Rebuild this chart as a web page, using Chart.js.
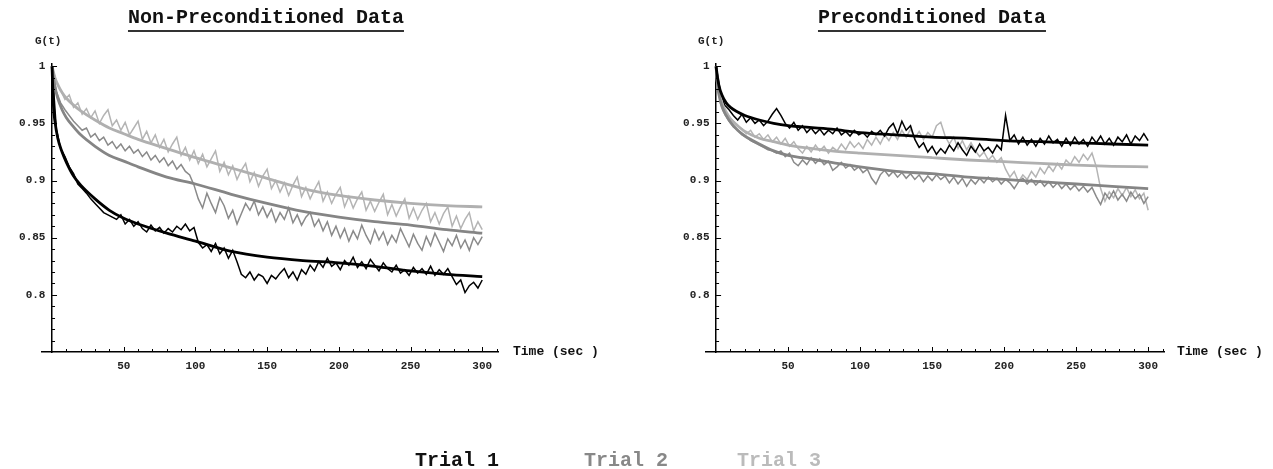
<!DOCTYPE html>
<html>
<head>
<meta charset="utf-8">
<script src="https://cdn.jsdelivr.net/npm/chart.js@4.4.0/dist/chart.umd.min.js"></script>
<style>
  body { margin: 0; width: 1273px; height: 469px; background: #fff; position: relative; overflow: hidden; font-family: "Liberation Mono", "DejaVu Sans Mono", monospace; }
  .panel { position: absolute; top: 0; height: 469px; }
  .title { position: absolute; top: 8px; font-size: 20px; line-height: 20px; font-weight: bold; color: #111; padding-bottom: 2px; border-bottom: 2px solid #333; transform: translateX(-50%); white-space: nowrap; }
  .ylab { position: absolute; top: 35px; font-size: 11px; font-weight: bold; color: #222; }
  .xlab { position: absolute; top: 344px; font-size: 13px; line-height: 16px; font-weight: bold; color: #111; white-space: pre; }
  .legend { position: absolute; top: 450px; font-size: 20px; line-height: 22px; font-weight: bold; white-space: nowrap; }
</style>
</head>
<body>
<div class="panel" style="left:0;width:640px"><canvas id="leftChart"></canvas></div>
<div class="panel" style="left:640px;width:633px"><canvas id="rightChart"></canvas></div>

<div class="title" style="left:266px">Non-Preconditioned Data</div>
<div class="title" style="left:932px">Preconditioned Data</div>
<div class="ylab" style="left:35px">G(t)</div>
<div class="ylab" style="left:698px">G(t)</div>
<div class="xlab" style="left:513px">Time (sec )</div>
<div class="xlab" style="left:1177px">Time (sec )</div>
<div class="legend" style="left:415px;color:#111">Trial 1</div>
<div class="legend" style="left:584px;color:#888">Trial 2</div>
<div class="legend" style="left:737px;color:#bbb">Trial 3</div>

<script>
// sample times of the measured curves (sec)
const time = [
  0, 3, 6, 9, 12, 15, 18, 21, 24, 27,
  30, 33, 36, 39, 42, 45, 48, 51, 54, 57,
  60, 63, 66, 69, 72, 75, 78, 81, 84, 87,
  90, 93, 96, 99, 102, 105, 108, 111, 114, 117,
  120, 123, 126, 129, 132, 135, 138, 141, 144, 147,
  150, 153, 156, 159, 162, 165, 168, 171, 174, 177,
  180, 183, 186, 189, 192, 195, 198, 201, 204, 207,
  210, 213, 216, 219, 222, 225, 228, 231, 234, 237,
  240, 243, 246, 249, 252, 255, 258, 261, 264, 267,
  270, 273, 276, 279, 282, 285, 288, 291, 294, 297,
  300
];
// times where the fitted curves were read
const fitTime = [0, 1, 2, 4, 7, 10, 15, 20, 30, 40, 50, 60, 80, 100, 125, 150, 175, 200, 225, 250, 275, 300];

const trialNames = ['Trial 1', 'Trial 2', 'Trial 3'];
const xTicks = [10, 20, 30, 40, 50, 60, 70, 80, 90, 100, 110, 120, 130, 140, 150, 160, 170, 180, 190, 200, 210, 220, 230, 240, 250, 260, 270, 280, 290, 300, 310];
const xLabels = [50, 100, 150, 200, 250, 300];
const yTicks = [0.76, 0.77, 0.78, 0.79, 0.8, 0.81, 0.82, 0.83, 0.84, 0.85, 0.86, 0.87, 0.88, 0.89, 0.9, 0.91, 0.92, 0.93, 0.94, 0.95, 0.96, 0.97, 0.98, 0.99, 1];
const yLabels = [0.8, 0.85, 0.9, 0.95, 1];

// Non-preconditioned data
const leftTrial1 = [
  1.000, 0.945, 0.928, 0.921, 0.912, 0.906, 0.897, 0.893, 0.889, 0.884,
  0.880, 0.876, 0.872, 0.870, 0.868, 0.866, 0.870, 0.862, 0.866, 0.860,
  0.864, 0.858, 0.855, 0.861, 0.856, 0.859, 0.854, 0.858, 0.855, 0.860,
  0.857, 0.862, 0.856, 0.859, 0.846, 0.841, 0.844, 0.838, 0.845, 0.836,
  0.841, 0.832, 0.839, 0.829, 0.818, 0.815, 0.820, 0.813, 0.818, 0.816,
  0.810, 0.817, 0.814, 0.819, 0.823, 0.815, 0.820, 0.813, 0.822, 0.818,
  0.826, 0.821, 0.829, 0.824, 0.832, 0.825, 0.828, 0.822, 0.830, 0.826,
  0.833, 0.824, 0.829, 0.823, 0.831, 0.826, 0.821, 0.828, 0.823, 0.820,
  0.826, 0.819, 0.822, 0.817, 0.824, 0.819, 0.823, 0.818, 0.825, 0.817,
  0.822, 0.818, 0.823, 0.816, 0.809, 0.813, 0.802, 0.808, 0.811, 0.806,
  0.813
];
const leftTrial2 = [
  1.000, 0.978, 0.968, 0.962, 0.957, 0.952, 0.948, 0.944, 0.946, 0.938,
  0.941, 0.935, 0.938, 0.931, 0.934, 0.928, 0.932, 0.926, 0.930, 0.924,
  0.927, 0.921, 0.925, 0.918, 0.922, 0.916, 0.920, 0.913, 0.917, 0.910,
  0.914, 0.908, 0.905, 0.896, 0.884, 0.876, 0.889, 0.880, 0.872, 0.885,
  0.878, 0.867, 0.874, 0.862, 0.871, 0.880, 0.874, 0.882, 0.870, 0.877,
  0.868, 0.875, 0.864, 0.872, 0.866, 0.876, 0.863, 0.870, 0.861, 0.868,
  0.872, 0.860, 0.866, 0.856, 0.864, 0.852, 0.860, 0.850, 0.858, 0.847,
  0.856, 0.849, 0.861, 0.852, 0.845, 0.857, 0.848, 0.855, 0.844, 0.852,
  0.846, 0.858, 0.850, 0.842, 0.853, 0.845, 0.839, 0.851, 0.843, 0.854,
  0.846, 0.838, 0.849, 0.843, 0.852, 0.841, 0.848, 0.839, 0.850, 0.844,
  0.851
];
const leftTrial3 = [
  1.000, 0.986, 0.979, 0.971, 0.975, 0.964, 0.968, 0.958, 0.963, 0.955,
  0.961, 0.950, 0.957, 0.962, 0.948, 0.953, 0.944, 0.951, 0.940, 0.946,
  0.952, 0.936, 0.943, 0.933, 0.940, 0.929, 0.936, 0.925, 0.932, 0.938,
  0.922, 0.929, 0.918, 0.926, 0.915, 0.923, 0.912, 0.919, 0.926, 0.908,
  0.916, 0.905, 0.913, 0.901, 0.909, 0.915, 0.899, 0.907, 0.895, 0.904,
  0.910, 0.893, 0.900, 0.890, 0.898, 0.887, 0.896, 0.903, 0.886, 0.894,
  0.884, 0.892, 0.899, 0.882, 0.890, 0.880, 0.888, 0.894, 0.877, 0.886,
  0.876, 0.884, 0.890, 0.874, 0.882, 0.873, 0.881, 0.888, 0.870, 0.879,
  0.869, 0.877, 0.884, 0.867, 0.876, 0.866, 0.874, 0.880, 0.864, 0.872,
  0.862, 0.871, 0.877, 0.860, 0.869, 0.858, 0.866, 0.872, 0.856, 0.864,
  0.857
];
const leftFit1 = [1.0, 0.965, 0.952, 0.937, 0.925, 0.916, 0.904, 0.896, 0.884, 0.874, 0.867, 0.862, 0.854, 0.847, 0.838, 0.833, 0.830, 0.828, 0.825, 0.821, 0.818, 0.816];
const leftFit2 = [1.0, 0.990, 0.982, 0.972, 0.962, 0.955, 0.947, 0.940, 0.930, 0.922, 0.917, 0.912, 0.903, 0.897, 0.888, 0.880, 0.873, 0.868, 0.864, 0.861, 0.857, 0.854];
const leftFit3 = [1.0, 0.995, 0.990, 0.984, 0.977, 0.972, 0.966, 0.961, 0.953, 0.946, 0.941, 0.936, 0.928, 0.920, 0.911, 0.902, 0.893, 0.887, 0.883, 0.880, 0.878, 0.877];

// Preconditioned data
const rightTrial1 = [
  1.000, 0.978, 0.966, 0.962, 0.957, 0.953, 0.958, 0.951, 0.955, 0.950,
  0.953, 0.948, 0.952, 0.958, 0.963, 0.957, 0.950, 0.946, 0.951, 0.944,
  0.948, 0.942, 0.946, 0.941, 0.945, 0.940, 0.944, 0.941, 0.946, 0.940,
  0.943, 0.939, 0.944, 0.940, 0.942, 0.938, 0.943, 0.940, 0.944, 0.939,
  0.946, 0.950, 0.941, 0.952, 0.944, 0.948, 0.936, 0.929, 0.933, 0.925,
  0.930, 0.923, 0.928, 0.924, 0.931, 0.926, 0.933, 0.927, 0.922, 0.930,
  0.925, 0.932, 0.926, 0.929, 0.924, 0.931, 0.927, 0.957, 0.935, 0.940,
  0.932, 0.938, 0.931, 0.936, 0.930, 0.937, 0.932, 0.939, 0.933, 0.936,
  0.930, 0.937, 0.931, 0.938, 0.932, 0.936, 0.930, 0.938, 0.933, 0.939,
  0.932, 0.937, 0.931, 0.938, 0.934, 0.940, 0.932, 0.939, 0.935, 0.941,
  0.935
];
const rightTrial2 = [
  1.000, 0.968, 0.958, 0.952, 0.947, 0.944, 0.940, 0.938, 0.935, 0.933,
  0.931, 0.929, 0.927, 0.926, 0.924, 0.926, 0.921, 0.924, 0.916, 0.913,
  0.918, 0.914, 0.920, 0.915, 0.919, 0.914, 0.917, 0.909, 0.912, 0.916,
  0.911, 0.914, 0.909, 0.912, 0.907, 0.910, 0.902, 0.897, 0.905, 0.909,
  0.904, 0.908, 0.903, 0.907, 0.902, 0.906, 0.901, 0.905, 0.899, 0.904,
  0.900, 0.905, 0.901, 0.904, 0.898, 0.903, 0.897, 0.902, 0.895, 0.901,
  0.897, 0.902, 0.898, 0.903, 0.899, 0.902, 0.897, 0.901, 0.898, 0.893,
  0.899, 0.902, 0.897, 0.901, 0.896, 0.900, 0.895, 0.899, 0.894, 0.898,
  0.893, 0.897, 0.892, 0.896, 0.891, 0.895, 0.890, 0.894, 0.886, 0.879,
  0.889, 0.884, 0.891, 0.883, 0.888, 0.882, 0.890, 0.884, 0.888, 0.880,
  0.886
];
const rightTrial3 = [
  1.000, 0.972, 0.962, 0.956, 0.952, 0.948, 0.945, 0.941, 0.944, 0.938,
  0.941, 0.936, 0.940, 0.934, 0.938, 0.932, 0.937, 0.930, 0.934, 0.928,
  0.924, 0.930, 0.925, 0.931, 0.926, 0.930, 0.924, 0.929, 0.926, 0.932,
  0.927, 0.934, 0.929, 0.933, 0.928, 0.936, 0.931, 0.938, 0.932, 0.940,
  0.935, 0.942, 0.936, 0.944, 0.938, 0.945, 0.937, 0.943, 0.936, 0.942,
  0.938, 0.948, 0.951, 0.939, 0.932, 0.938, 0.928, 0.935, 0.927, 0.933,
  0.926, 0.921, 0.925, 0.918, 0.922, 0.916, 0.920, 0.910, 0.903, 0.908,
  0.899, 0.905, 0.901, 0.908, 0.903, 0.911, 0.906, 0.913, 0.908, 0.915,
  0.910, 0.918, 0.914, 0.921, 0.916, 0.923, 0.918, 0.924, 0.912, 0.893,
  0.882, 0.890, 0.885, 0.893, 0.887, 0.894, 0.886, 0.892, 0.884, 0.889,
  0.874
];
const rightFit1 = [1.0, 0.990, 0.983, 0.975, 0.968, 0.964, 0.960, 0.957, 0.953, 0.950, 0.948, 0.947, 0.945, 0.942, 0.940, 0.938, 0.937, 0.935, 0.934, 0.933, 0.932, 0.931];
const rightFit2 = [1.0, 0.984, 0.975, 0.965, 0.957, 0.951, 0.944, 0.939, 0.932, 0.926, 0.922, 0.920, 0.916, 0.912, 0.908, 0.906, 0.903, 0.901, 0.899, 0.897, 0.895, 0.893];
const rightFit3 = [1.0, 0.985, 0.977, 0.968, 0.960, 0.954, 0.948, 0.943, 0.937, 0.934, 0.931, 0.929, 0.926, 0.924, 0.922, 0.920, 0.918, 0.9165, 0.915, 0.9135, 0.9125, 0.912];

const noiseColors = ['#000000', '#8a8a8a', '#b4b4b4'];
const fitColors = ['#000000', '#858585', '#b0b0b0'];

const isLabel = (list, v) => list.some(l => Math.abs(l - v) < 1e-6);

// Mathematica-style small ticks drawn on the inside of the axes
const innerTicks = {
  id: 'innerTicks',
  afterDraw(chart) {
    const { ctx, scales: { x, y } } = chart;
    const x0 = x.getPixelForValue(0);
    const y0 = y.getPixelForValue(y.min);
    ctx.save();
    ctx.strokeStyle = '#000';
    ctx.lineWidth = 1;
    ctx.beginPath();
    x.ticks.forEach(t => {
      const px = Math.round(x.getPixelForValue(t.value)) + 0.5;
      ctx.moveTo(px, y0);
      ctx.lineTo(px, y0 - (isLabel(xLabels, t.value) ? 5 : 3));
    });
    y.ticks.forEach(t => {
      const py = Math.round(y.getPixelForValue(t.value)) + 0.5;
      ctx.moveTo(x0, py);
      ctx.lineTo(x0 + (isLabel(yLabels, t.value) ? 5 : 3), py);
    });
    ctx.stroke();
    ctx.restore();
  }
};

function makePanel(id, trials, fits, padLeft, padRight) {
  const datasets = [];
  fits.forEach((f, i) => {
    datasets.push({
      label: trialNames[i] + ' fit',
      data: fitTime.map((t, k) => ({ x: t, y: f[k] })),
      borderColor: fitColors[i],
      borderWidth: 2.8,
      pointRadius: 0,
      cubicInterpolationMode: 'monotone',
      order: 0
    });
  });
  trials.forEach((v, i) => {
    datasets.push({
      label: trialNames[i],
      data: time.map((t, k) => ({ x: t, y: v[k] })),
      borderColor: noiseColors[i],
      borderWidth: 1.5,
      pointRadius: 0,
      tension: 0,
      order: 1 + i
    });
  });

  new Chart(document.getElementById(id), {
    type: 'line',
    data: { datasets },
    options: {
      responsive: true,
      maintainAspectRatio: false,
      animation: false,
      layout: { padding: { left: padLeft, right: padRight, top: 64, bottom: 93 } },
      plugins: { legend: { display: false }, tooltip: { enabled: false } },
      scales: {
        x: {
          type: 'linear',
          min: -7,
          max: 311,
          afterBuildTicks: s => { s.ticks = xTicks.map(v => ({ value: v })); },
          afterFit: s => { s.height = 24; },
          grid: { display: false, drawTicks: false },
          border: { display: true, color: '#000', width: 1.5 },
          ticks: {
            autoSkip: false,
            maxRotation: 0,
            padding: 8,
            color: '#222',
            font: { family: 'Liberation Mono', size: 11, weight: 'bold' },
            callback: v => isLabel(xLabels, v) ? String(v) : ''
          }
        },
        y: {
          type: 'linear',
          position: { x: 0 },
          min: 0.75,
          max: 1.002,
          afterBuildTicks: s => { s.ticks = yTicks.map(v => ({ value: v })); },
          grid: { display: false, drawTicks: false },
          border: { display: true, color: '#000', width: 1.5 },
          ticks: {
            autoSkip: false,
            color: '#222',
            font: { family: 'Liberation Mono', size: 11, weight: 'bold' },
            // trailing space keeps the label clear of the axis line
            callback: v => isLabel(yLabels, v) ? String(+v.toFixed(2)) + ' ' : ''
          }
        }
      }
    },
    plugins: [innerTicks]
  });
}

makePanel('leftChart', [leftTrial1, leftTrial2, leftTrial3], [leftFit1, leftFit2, leftFit3], 42, 142);
makePanel('rightChart', [rightTrial1, rightTrial2, rightTrial3], [rightFit1, rightFit2, rightFit3], 66, 109);
</script>
</body>
</html>
